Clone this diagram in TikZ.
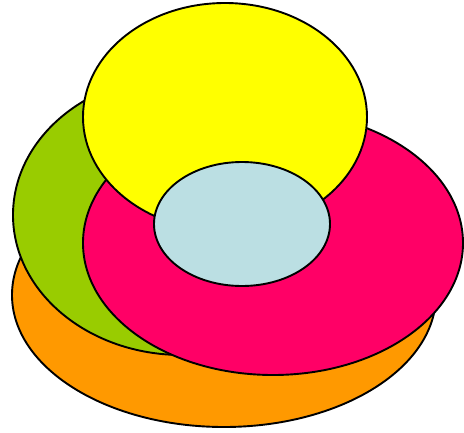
\documentclass[tikz,border=0pt]{standalone}
\usepackage{xcolor}
\usepackage{tikz}
\definecolor{blobOrange}{HTML}{FF9900}
\definecolor{blobGreen}{HTML}{99CC00}
\definecolor{blobPink}{HTML}{FF0066}
\definecolor{blobYellow}{HTML}{FFFF00}
\definecolor{blobBlue}{HTML}{BBDFE3}
\begin{document}
\begin{tikzpicture}[x=1pt,y=-1pt,
  blob/.style={draw=black,line width=1.9pt}]
\useasboundingbox (0,0) rectangle (464,432);
\fill[white] (0,0) rectangle (464,432);
\draw[blob,fill=blobOrange] (224,295) ellipse [x radius=212,y radius=132];
\draw[blob,fill=blobGreen]  (182,215) ellipse [x radius=169,y radius=140];
\draw[blob,fill=blobPink]   (273,243) ellipse [x radius=190,y radius=132];
\draw[blob,fill=blobYellow] (225,117) ellipse [x radius=142,y radius=114];
\draw[blob,fill=blobBlue]   (242,224) ellipse [x radius=88,y radius=62];
\end{tikzpicture}
\end{document}
